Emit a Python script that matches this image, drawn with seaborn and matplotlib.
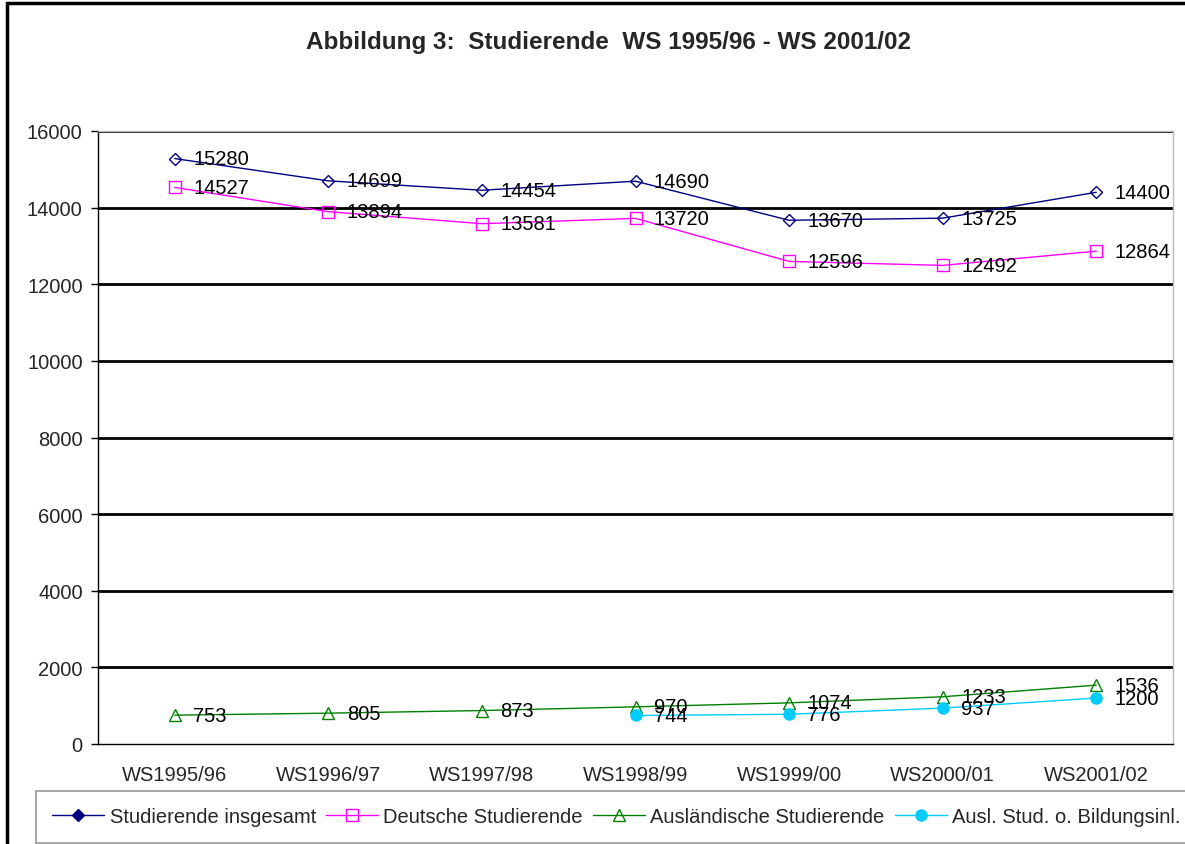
import matplotlib
matplotlib.use("Agg")
import matplotlib.pyplot as plt
import matplotlib.patches as mpatches
import seaborn as sns
import pandas as pd

semester = ["WS1995/96", "WS1996/97", "WS1997/98", "WS1998/99",
            "WS1999/00", "WS2000/01", "WS2001/02"]
insgesamt = [15280, 14699, 14454, 14690, 13670, 13725, 14400]
deutsche = [14527, 13894, 13581, 13720, 12596, 12492, 12864]
auslaendische = [753, 805, 873, 970, 1074, 1233, 1536]
bildungsinl = [None, None, None, 744, 776, 937, 1200]

sns.set_theme(style="white")
plt.rcParams['font.family'] = ['Liberation Sans', 'DejaVu Sans']

fig = plt.figure(figsize=(11.85, 8.45), dpi=100)
ax = fig.add_axes([98 / 1185, 1 - 745 / 845, 1075 / 1185, 613 / 845])

# outer frame (cut off at the right and bottom like the original)
fig.patches.append(mpatches.Rectangle((7 / 1185, -0.05), 1.2, 1 - 4 / 845 + 0.05,
                                      transform=fig.transFigure, fill=False,
                                      edgecolor="black", linewidth=2.5, zorder=0))

series = [
    ("Studierende insgesamt", insgesamt, "#000080", "D", "none", 6),
    ("Deutsche Studierende", deutsche, "#FF00FF", "s", "none", 8),
    ("Ausländische Studierende", auslaendische, "#008000", "^", "none", 8),
    ("Ausl. Stud. o. Bildungsinl.", bildungsinl, "#00CCFF", "o", "#00CCFF", 8),
]

fs = 14.5
x = list(range(len(semester)))
for name, vals, col, mk, fc, ms in series:
    df = pd.DataFrame({"x": x, "y": vals}).dropna()
    sns.lineplot(data=df, x="x", y="y", ax=ax, color=col, linewidth=1,
                 marker=mk, markersize=ms, markerfacecolor=fc,
                 markeredgecolor=col, markeredgewidth=1, label=name, zorder=3)
    for xi, yi in zip(df["x"], df["y"]):
        ax.text(xi + 0.12, yi, f"{int(yi)}", fontsize=fs, ha="left",
                va="center", color="black", zorder=4)

ax.set_xlim(-0.5, 6.5)
ax.set_ylim(0, 16000)
ax.set_yticks(range(0, 16001, 2000))
ax.set_yticklabels([str(v) for v in range(0, 16001, 2000)], fontsize=fs)
ax.set_xticks(x)
ax.set_xticklabels(semester, fontsize=fs)
ax.set_xticks([i - 0.5 for i in range(8)], minor=True)
ax.tick_params(axis="x", which="major", length=0, pad=15)
ax.tick_params(axis="x", which="minor", length=6, width=1, color="black", direction="out")
ax.tick_params(axis="y", length=5, width=1, color="black", direction="out", left=True, pad=6)
ax.set_xlabel("")
ax.set_ylabel("")

for v in range(2000, 16001, 2000):
    ax.axhline(v, color="black", linewidth=2, zorder=1)

for side in ["top", "right"]:
    ax.spines[side].set_visible(True)
    ax.spines[side].set_color("#BBBBBB")
    ax.spines[side].set_linewidth(1)
ax.spines["left"].set_color("black")
ax.spines["bottom"].set_color("black")
ax.spines["left"].set_linewidth(1)
ax.spines["bottom"].set_linewidth(1)

fig.text(608 / 1185, 1 - 43 / 845, "Abbildung 3:  Studierende  WS 1995/96 - WS 2001/02",
         ha="center", va="center", fontsize=17.5, fontweight="bold")

leg = ax.legend(loc="center left", bbox_to_anchor=(36 / 1185, 1 - 818 / 845),
                bbox_transform=fig.transFigure, ncol=4, fontsize=fs,
                frameon=True, fancybox=False, handlelength=2.6, columnspacing=0.5,
                handletextpad=0.25, borderpad=0.8, borderaxespad=0)
leg.get_frame().set_edgecolor("#808080")
leg.get_frame().set_linewidth(1.2)
# legend marker for the first series is filled in the original
leg.legend_handles[0].set_markerfacecolor("#000080")

fig.savefig("out.png", dpi=100)
